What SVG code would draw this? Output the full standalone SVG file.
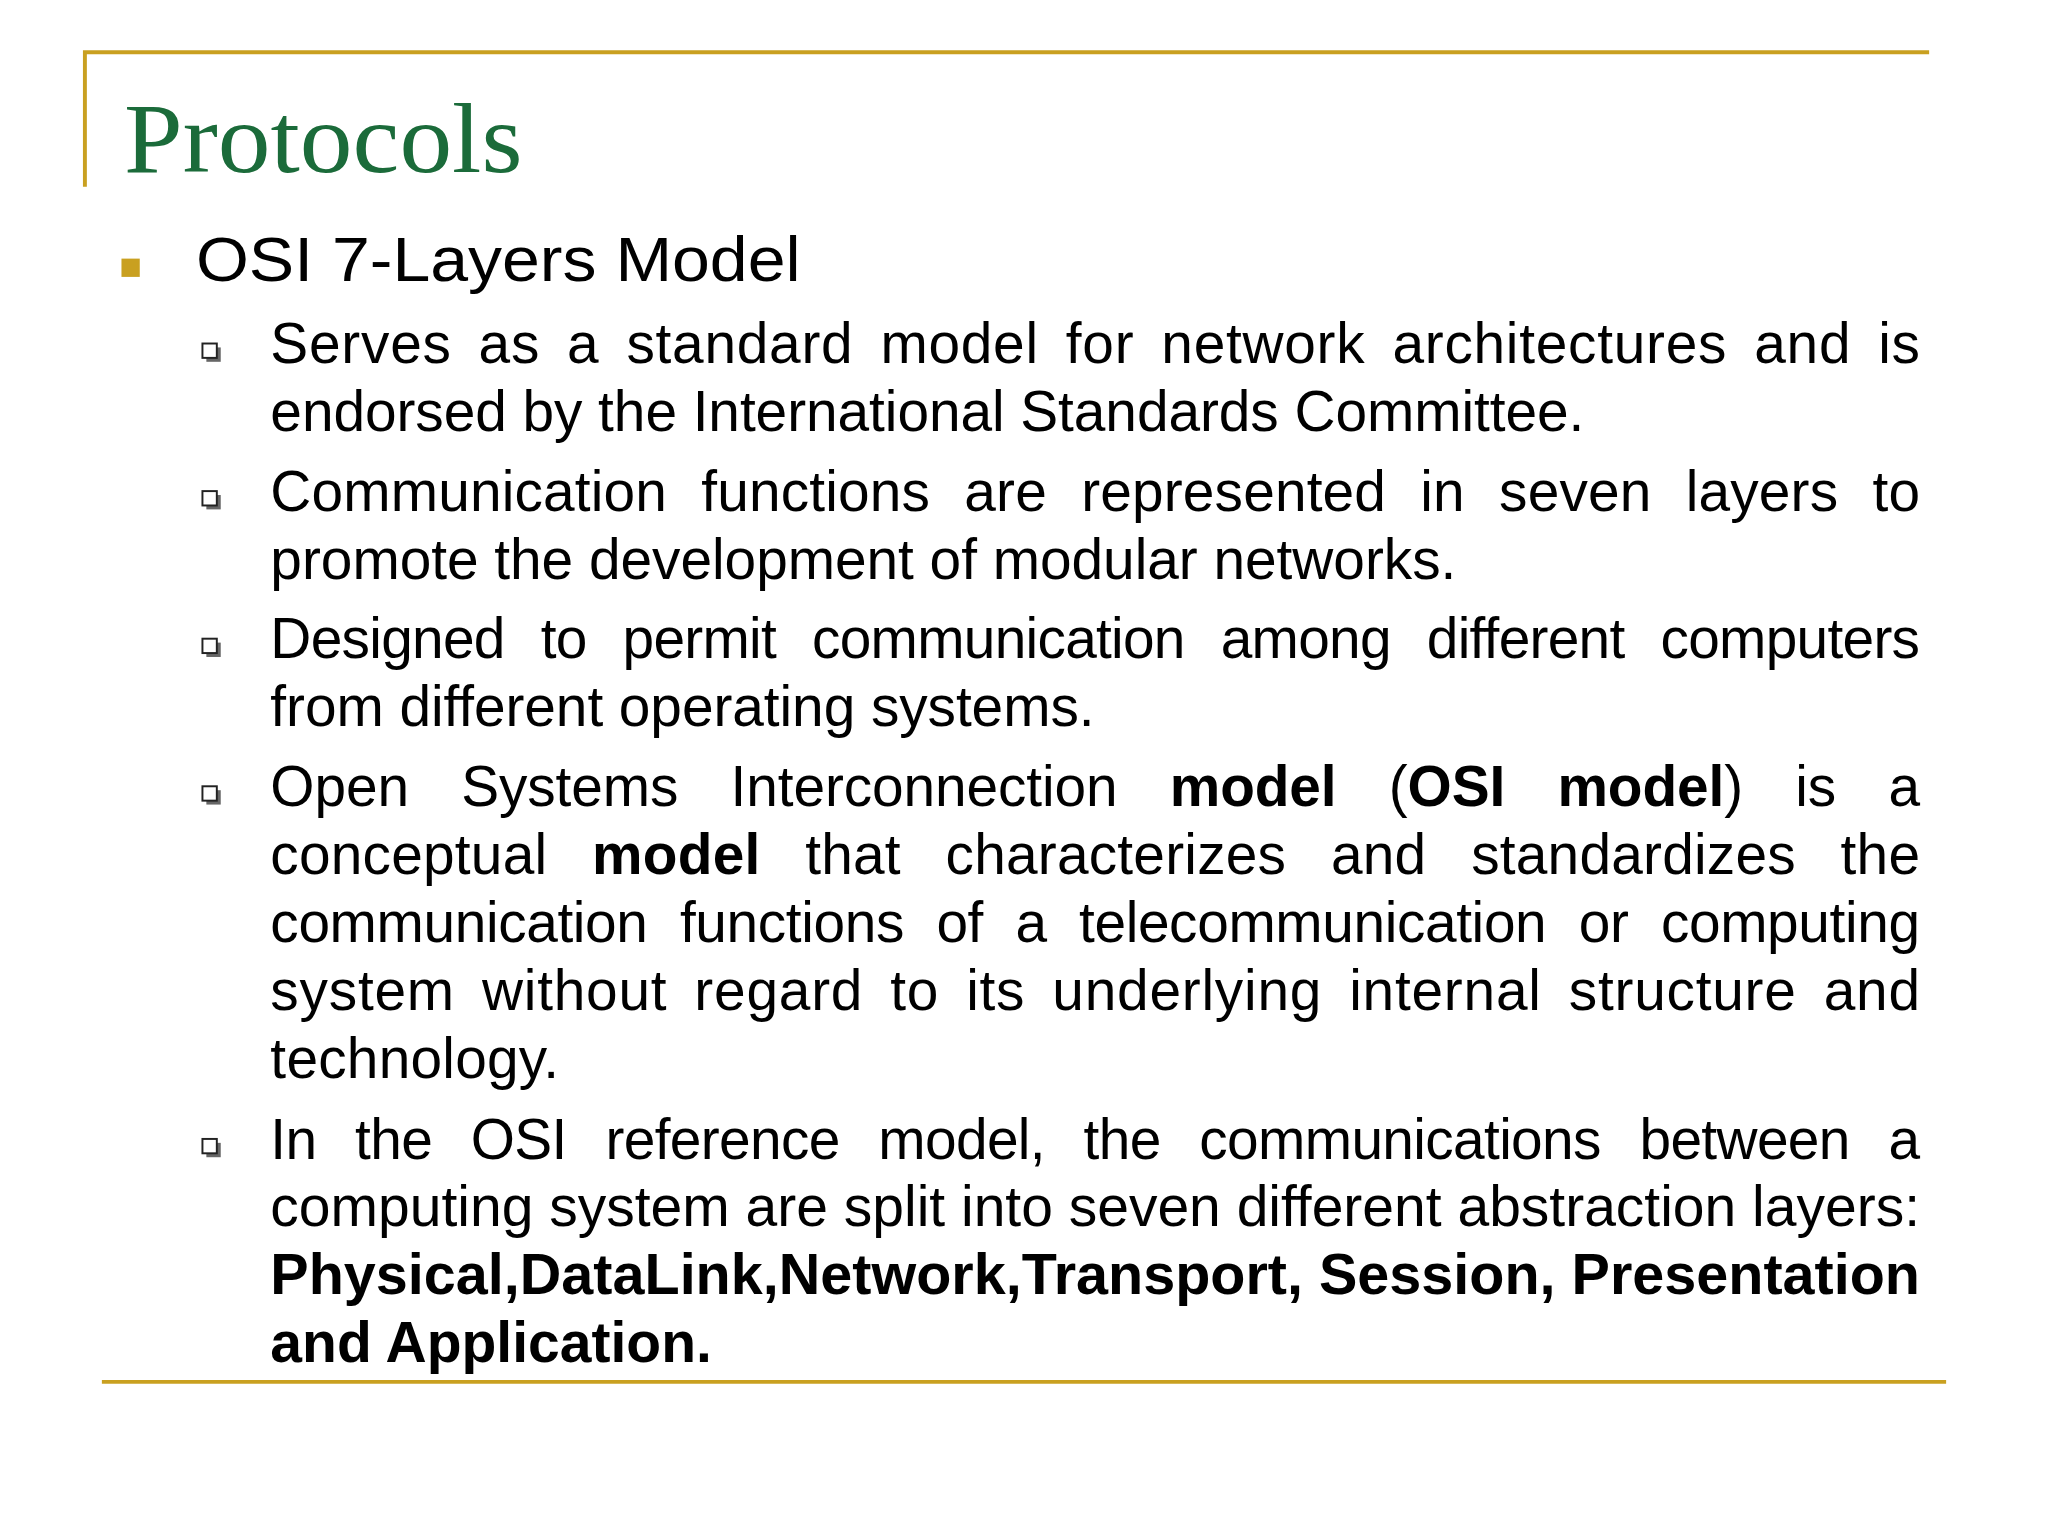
<svg xmlns="http://www.w3.org/2000/svg" width="2048" height="1536" viewBox="0 0 2048 1536">
<style>
.g{stroke:#C9A020;stroke-width:3;fill:none}
.t{font-family:"Liberation Sans",Arial,sans-serif;font-size:43.5px;fill:#000}
.b{font-weight:bold}
.sb{fill:#fff;stroke:#222;stroke-width:1.5}
.sh{fill:#666}
</style>
<rect width="2048" height="1536" fill="#fff"/>
<g transform="scale(1.30612)">
<g id="frame">
<path class="g" d="M65 143V40H1477"/>
<path class="g" d="M78 1058H1490"/>
</g>
<g id="title">
<text x="95" y="132" font-family="Liberation Serif,serif" font-size="76" fill="#1B6B3A" textLength="305" lengthAdjust="spacingAndGlyphs">Protocols</text>
</g>
<g id="heading">
<rect x="93" y="198" width="14" height="14" fill="#C9A020"/>
<text x="150" y="215" font-family="Liberation Sans,Arial,sans-serif" font-size="48" textLength="463" lengthAdjust="spacingAndGlyphs">OSI 7-Layers Model</text>
</g>
<g id="bullets">
<rect class="sh" x="158" y="266" width="11" height="11"/><rect class="sb" x="155" y="263" width="11" height="11"/>
<rect class="sh" x="158" y="379" width="11" height="11"/><rect class="sb" x="155" y="376" width="11" height="11"/>
<rect class="sh" x="158" y="492" width="11" height="11"/><rect class="sb" x="155" y="489" width="11" height="11"/>
<rect class="sh" x="158" y="605" width="11" height="11"/><rect class="sb" x="155" y="602" width="11" height="11"/>
<rect class="sh" x="158" y="875" width="11" height="11"/><rect class="sb" x="155" y="872" width="11" height="11"/>
</g>
<g id="body" class="t">
<text x="207" y="278" word-spacing="8" textLength="1263" lengthAdjust="spacing">Serves as a standard model for network architectures and is</text>
<text x="207" y="330" textLength="1006" lengthAdjust="spacing">endorsed by the International Standards Committee.</text>
<text x="207" y="391" word-spacing="14" textLength="1263" lengthAdjust="spacing">Communication functions are represented in seven layers to</text>
<text x="207" y="443" textLength="908" lengthAdjust="spacing">promote the development of modular networks.</text>
<text x="207" y="504" word-spacing="16" textLength="1263" lengthAdjust="spacing">Designed to permit communication among different computers</text>
<text x="207" y="556" textLength="631" lengthAdjust="spacing">from different operating systems.</text>
<text x="207" y="617" word-spacing="28" textLength="1263" lengthAdjust="spacing">Open Systems Interconnection <tspan class="b">model</tspan> (<tspan class="b">OSI model</tspan>) is a</text>
<text x="207" y="669" word-spacing="22" textLength="1263" lengthAdjust="spacing">conceptual <tspan class="b">model</tspan> that characterizes and standardizes the</text>
<text x="207" y="721" word-spacing="13" textLength="1263" lengthAdjust="spacing">communication functions of a telecommunication or computing</text>
<text x="207" y="773" word-spacing="8" textLength="1263" lengthAdjust="spacing">system without regard to its underlying internal structure and</text>
<text x="207" y="825" textLength="221" lengthAdjust="spacing">technology.</text>
<text x="207" y="887" word-spacing="18" textLength="1263" lengthAdjust="spacing">In the OSI reference model, the communications between a</text>
<text x="207" y="939" textLength="1263" lengthAdjust="spacingAndGlyphs">computing system are split into seven different abstraction layers:</text>
<text x="207" y="991" class="b" textLength="1263" lengthAdjust="spacingAndGlyphs">Physical,DataLink,Network,Transport, Session, Presentation</text>
<text x="207" y="1043" class="b" textLength="338" lengthAdjust="spacingAndGlyphs">and Application.</text>
</g>
</g>
</svg>
